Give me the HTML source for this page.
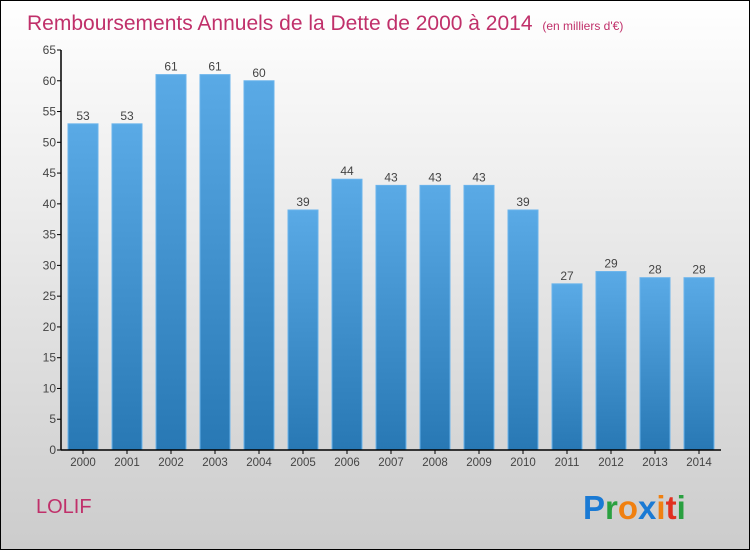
<!DOCTYPE html>
<html><head><meta charset="utf-8"><style>
body{margin:0;}
#wrap{width:748px;height:548px;border:1px solid #000;background:linear-gradient(#fff,#ccc);position:relative;overflow:hidden;font-family:"Liberation Sans",sans-serif;}
</style></head><body>
<div id="wrap">
<svg id="c" width="748" height="548" xmlns="http://www.w3.org/2000/svg">
<defs><linearGradient id="bg" x1="0" y1="0" x2="0" y2="1"><stop offset="0" stop-color="#5aaae6"/><stop offset="1" stop-color="#2878b4"/></linearGradient></defs>
<text x="26" y="29" font-size="21" fill="#c0306a">Remboursements Annuels de la Dette de 2000 à 2014 <tspan font-size="12" dx="4">(en milliers d'€)</tspan></text>
<text x="35" y="512" font-size="20" fill="#c0306a">LOLIF</text>
<g font-size="33" font-weight="bold" font-family="Liberation Sans,sans-serif">
<text x="582" y="518"><tspan fill="#1a7ad4">P</tspan><tspan fill="#2aa040">r</tspan><tspan fill="#f08010">o</tspan><tspan fill="#1a7ad4">x</tspan><tspan fill="#f08010">i</tspan><tspan fill="#e03020">t</tspan><tspan fill="#2aa040">i</tspan></text></g>
<g id="plot"></g>
</svg></div>
<script>
const categories=["2000","2001","2002","2003","2004","2005","2006","2007","2008","2009","2010","2011","2012","2013","2014"];
const values=[53,53,61,61,60,39,44,43,43,43,39,27,29,28,28];
const yTicks=[0,5,10,15,20,25,30,35,40,45,50,55,60,65];
const X0=60,X1=720,Y0=449,YT=49,YMAX=65;
const band=(X1-X0)/categories.length;
const y=v=>Y0-(v/YMAX)*(Y0-YT);
const xc=i=>X0+band*i+band/2;
const g=document.getElementById('plot');
const NS="http://www.w3.org/2000/svg";
function mk(t,a){const e=document.createElementNS(NS,t);for(const k in a)e.setAttribute(k,a[k]);g.appendChild(e);return e;}
values.forEach((v,i)=>{
const r=mk('rect',{x:xc(i)-15,y:y(v),width:30,height:Y0-y(v),fill:'url(#bg)',stroke:'#6ab4ec','stroke-width':1});


const t=mk('text',{x:xc(i),y:y(v)-4,'text-anchor':'middle','font-size':12,fill:'#444'});
t.textContent=v;


const xl=mk('text',{x:xc(i),y:Y0+16,'text-anchor':'middle','font-size':11.5,fill:'#444'});
xl.textContent=categories[i];


mk('line',{x1:xc(i),x2:xc(i),y1:Y0,y2:Y0+4,stroke:'#000'});
});
yTicks.forEach(v=>{
mk('line',{x1:X0-4,x2:X0,y1:y(v),y2:y(v),stroke:'#000'});
const t=mk('text',{x:X0-5,y:y(v)+4,'text-anchor':'end','font-size':12,fill:'#444'});
t.textContent=v;


});
const ya=mk('line',{x1:X0,x2:X0,y1:YT,y2:Y0,stroke:'#000','stroke-width':1.5});


const xa=mk('line',{x1:X0,x2:X1,y1:Y0,y2:Y0,stroke:'#000','stroke-width':1.5});


</script>
</body></html>
